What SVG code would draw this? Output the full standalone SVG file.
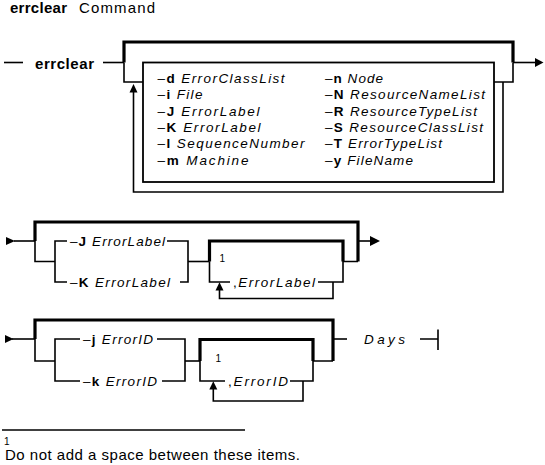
<svg xmlns="http://www.w3.org/2000/svg" width="545" height="465" viewBox="0 0 545 465">
<style>
text { font-family: "Liberation Sans", Arial, Helvetica, sans-serif; fill: #000; }
.t { font-size: 13.5px; }
.h { font-size: 15px; }
.s { font-size: 10px; }
.b { font-weight: bold; }
.i { font-style: italic; }
.thin { stroke: #000; stroke-width: 1.6; fill: none; }
.thick { stroke: #000; stroke-width: 3.2; fill: none; }
.ah { fill: #000; stroke: none; }
</style>
<rect width="545" height="465" fill="#fff"/>

<g id="title">
  <text class="h b" x="10" y="12.7" textLength="57" lengthAdjust="spacing">errclear</text>
  <text class="h" x="79" y="12.7" textLength="76" lengthAdjust="spacing">Command</text>
</g>

<g id="connectors">
  <!-- Diagram 1 -->
  <path class="thin" d="M4,62.5 H23"/>
  <path class="thin" d="M103,62.5 H124"/>
  <path class="thick" d="M124,62.5 V42 H513 V62.5"/>
  <path class="thin" d="M124,62.5 V82 H143"/>
  <path class="thin" d="M513,62.5 V82 H494"/>
  <path class="thin" d="M513,62.5 H536"/>
  <polygon class="ah" points="535,58 543.5,62.5 535,67"/>
  <path class="thin" d="M133.5,90 V192 H503 V82"/>
  <polygon class="ah" points="129.5,92.5 133.5,84 137.5,92.5"/>

  <!-- Diagram 2 -->
  <polygon class="ah" points="6,237 15,241 6,245"/>
  <path class="thin" d="M14,241 H35"/>
  <path class="thick" d="M35,241 V222 H358 V261.5"/>
  <path class="thin" d="M35,241 V261.5 H55"/>
  <path class="thin" d="M67,241 H55 V282 H67"/>
  <path class="thin" d="M167,241 H188 V282 H180"/>
  <path class="thin" d="M188,261.5 H209.5"/>
  <path class="thick" d="M209.5,261.5 V241 H343 V261.5"/>
  <path class="thin" d="M209.5,261.5 V282 H230"/>
  <path class="thin" d="M318,282 H343 V261.5 H358"/>
  <path class="thin" d="M333,282 V298.5 H219.5 V289"/>
  <polygon class="ah" points="215.5,290.5 219.5,282.3 223.5,290.5"/>
  <path class="thin" d="M358,241 H371"/>
  <polygon class="ah" points="370,236 380,241 370,246"/>

  <!-- Diagram 3 -->
  <polygon class="ah" points="5,335 13.5,339 5,343"/>
  <path class="thin" d="M12,339 H35"/>
  <path class="thick" d="M35,339 V320 H333 V361"/>
  <path class="thin" d="M35,339 V361 H55"/>
  <path class="thin" d="M80,339 H55 V381 H80"/>
  <path class="thin" d="M157,339 H185 V381 H162"/>
  <path class="thin" d="M185,361 H200"/>
  <path class="thick" d="M200,361 V339.5 H313 V361"/>
  <path class="thin" d="M200,361 V381 H225"/>
  <path class="thin" d="M290,381 H313 V361 H333"/>
  <path class="thin" d="M303,381 V401 H213.3 V388"/>
  <polygon class="ah" points="209.3,389.5 213.3,381.3 217.3,389.5"/>
  <path class="thin" d="M333,339 H347"/>
  <path class="thin" d="M420,339 H438 M438,329.5 V350"/>

  <!-- footnote rule -->
  <path stroke="#000" stroke-width="1.3" d="M2,430 H245"/>
</g>

<g id="node-errclear">
  <text class="h b" x="35" y="69" textLength="59" lengthAdjust="spacing">errclear</text>
</g>

<g id="node-options">
  <rect class="thin" x="143" y="62.5" width="351" height="119.5" style="stroke-width:1.8"/>
  <text class="t" x="157.5" y="83" textLength="127" lengthAdjust="spacing">–<tspan class="b">d</tspan> <tspan class="i">ErrorClassList</tspan></text>
  <text class="t" x="157.5" y="99.3" textLength="45" lengthAdjust="spacing">–<tspan class="b">i</tspan> <tspan class="i">File</tspan></text>
  <text class="t" x="157.5" y="115.6" textLength="102" lengthAdjust="spacing">–<tspan class="b">J</tspan> <tspan class="i">ErrorLabel</tspan></text>
  <text class="t" x="157.5" y="131.9" textLength="103" lengthAdjust="spacing">–<tspan class="b">K</tspan> <tspan class="i">ErrorLabel</tspan></text>
  <text class="t" x="157.5" y="148.2" textLength="147" lengthAdjust="spacing">–<tspan class="b">l</tspan> <tspan class="i">SequenceNumber</tspan></text>
  <text class="t" x="157.5" y="164.5" textLength="91" lengthAdjust="spacing">–<tspan class="b">m</tspan> <tspan class="i">Machine</tspan></text>
  <text class="t" x="325" y="83" textLength="58" lengthAdjust="spacing">–<tspan class="b">n</tspan> <tspan class="i">Node</tspan></text>
  <text class="t" x="325" y="99.3" textLength="160" lengthAdjust="spacing">–<tspan class="b">N</tspan> <tspan class="i">ResourceNameList</tspan></text>
  <text class="t" x="325" y="115.6" textLength="152" lengthAdjust="spacing">–<tspan class="b">R</tspan> <tspan class="i">ResourceTypeList</tspan></text>
  <text class="t" x="325" y="131.9" textLength="158" lengthAdjust="spacing">–<tspan class="b">S</tspan> <tspan class="i">ResourceClassList</tspan></text>
  <text class="t" x="325" y="148.2" textLength="117" lengthAdjust="spacing">–<tspan class="b">T</tspan> <tspan class="i">ErrorTypeList</tspan></text>
  <text class="t" x="325" y="164.5" textLength="88" lengthAdjust="spacing">–<tspan class="b">y</tspan> <tspan class="i">FileName</tspan></text>
</g>

<g id="node-J-label">
  <text class="t" x="70" y="245.5" textLength="95" lengthAdjust="spacing">–<tspan class="b">J</tspan> <tspan class="i">ErrorLabel</tspan></text>
</g>
<g id="node-K-label">
  <text class="t" x="70" y="286.5" textLength="100" lengthAdjust="spacing">–<tspan class="b">K</tspan> <tspan class="i">ErrorLabel</tspan></text>
</g>
<g id="node-repeat-label">
  <text class="s" x="219.5" y="262">1</text>
  <text class="t" x="233" y="286.5" textLength="82" lengthAdjust="spacing">,<tspan class="i">ErrorLabel</tspan></text>
</g>

<g id="node-j-id">
  <text class="t" x="83" y="343.5" textLength="70" lengthAdjust="spacing">–<tspan class="b">j</tspan> <tspan class="i">ErrorID</tspan></text>
</g>
<g id="node-k-id">
  <text class="t" x="83" y="385.5" textLength="74" lengthAdjust="spacing">–<tspan class="b">k</tspan> <tspan class="i">ErrorID</tspan></text>
</g>
<g id="node-repeat-id">
  <text class="s" x="215.5" y="362">1</text>
  <text class="t" x="228" y="385.5" textLength="60" lengthAdjust="spacing">,<tspan class="i">ErrorID</tspan></text>
</g>
<g id="node-days">
  <text class="t i" x="364" y="343.5" textLength="41" lengthAdjust="spacing">Days</text>
</g>

<g id="footnote">
  <text class="s" x="4" y="445">1</text>
  <text class="h" x="5" y="460" textLength="295" lengthAdjust="spacing">Do not add a space between these items.</text>
</g>
</svg>
